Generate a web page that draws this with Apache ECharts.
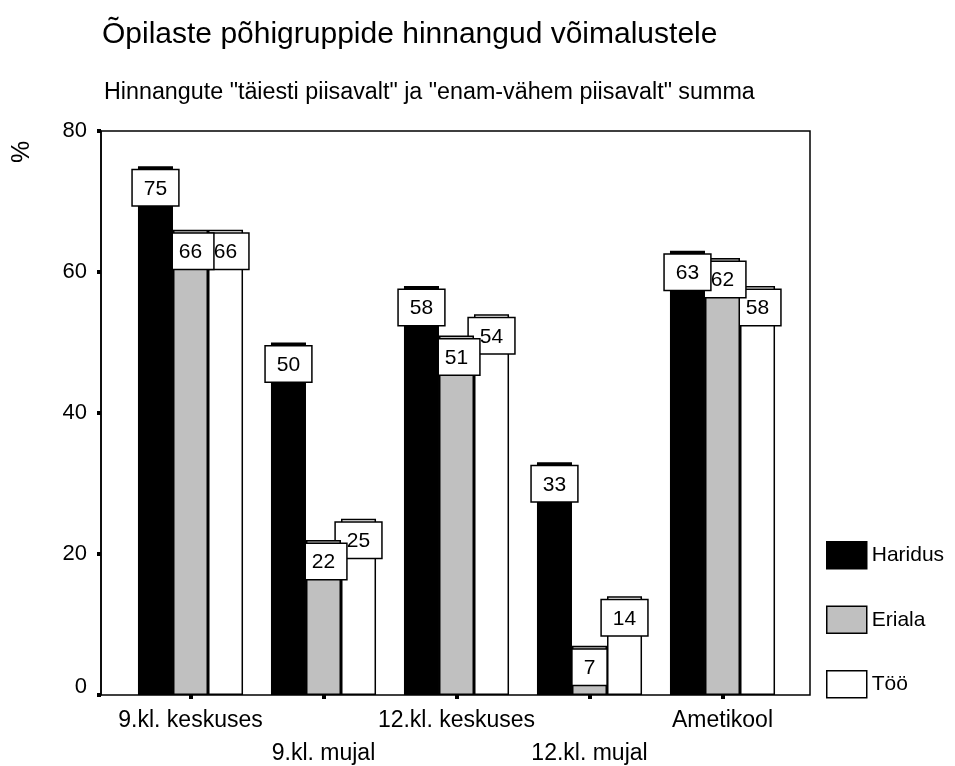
<!DOCTYPE html>
<html>
<head>
<meta charset="utf-8">
<script src="https://cdn.jsdelivr.net/npm/echarts@6/dist/echarts.min.js"></script>
<style>html,body{margin:0;padding:0;background:#fff}#c{width:955px;height:766px}</style>
</head>
<body>
<div id="c"></div>
<script>
const categories = ['9.kl. keskuses', '9.kl. mujal', '12.kl. keskuses', '12.kl. mujal', 'Ametikool'];
const seriesNames = ['Haridus', 'Eriala', 'Töö'];
const haridus = [75, 50, 58, 33, 63];
const eriala = [66, 22, 51, 7, 62];
const too = [66, 25, 54, 14, 58];
const yMin = 0, yMax = 80, yStep = 20;

const FONT = '"Liberation Sans", Arial, sans-serif';
const chart = echarts.init(document.getElementById('c'), null, {renderer: 'canvas'});

const labelStyle = {
  show: true,
  position: 'insideTop',
  distance: 4,
  backgroundColor: '#fff',
  borderColor: '#000',
  borderWidth: 1.5,
  padding: [8, 11, 6, 11],
  fontSize: 21,
  fontFamily: FONT,
  color: '#000'
};

function barSeries(name, data, color, z) {
  return {
    name: name,
    type: 'bar',
    xAxisIndex: 1,
    yAxisIndex: 1,
    data: data,
    z: z,
    barGap: '0%',
    barCategoryGap: '21%',
    itemStyle: {color: color, borderColor: '#000', borderWidth: 1.5},
    label: labelStyle,
    emphasis: {disabled: true}
  };
}

chart.setOption({
  animation: false,
  backgroundColor: '#fff',
  textStyle: {fontFamily: FONT},
  title: [
    {text: 'Õpilaste põhigruppide hinnangud võimalustele', left: 97, top: 15,
     textStyle: {fontSize: 30, fontWeight: 'normal', color: '#000', fontFamily: FONT}},
    {text: 'Hinnangute "täiesti piisavalt" ja "enam-vähem piisavalt" summa', left: 99, top: 76,
     textStyle: {fontSize: 23.3, fontWeight: 'normal', color: '#000', fontFamily: FONT}}
  ],
  graphic: [
    {type: 'text', x: 10, y: 163, rotation: Math.PI / 2,
     style: {text: '%', fontSize: 25, fontFamily: FONT, fill: '#000'}}
  ],
  legend: {
    orient: 'vertical',
    left: 826,
    top: 541,
    padding: 0,
    itemWidth: 40,
    itemHeight: 27,
    itemGap: 36,
    icon: 'rect',
    data: seriesNames,
    itemStyle: {borderColor: '#000', borderWidth: 1.5},
    textStyle: {fontSize: 21, color: '#000', fontFamily: FONT}
  },
  grid: [
    {left: 101, right: 145, top: 131, bottom: 71, outerBoundsMode: 'none', show: true, borderColor: '#000', borderWidth: 1.5, backgroundColor: 'transparent'},
    {left: 124, right: 166, top: 131, bottom: 71, outerBoundsMode: 'none'}
  ],
  xAxis: [
    {gridIndex: 0, type: 'value', show: false, min: 0, max: 1},
    {gridIndex: 1, type: 'category', data: categories,
     axisLine: {show: false},
     axisTick: {show: true, alignWithLabel: true, length: 4, lineStyle: {color: '#000', width: 4}},
     axisLabel: {
       interval: 0, fontSize: 23, color: '#000', fontFamily: FONT, margin: 9, lineHeight: 33,
       formatter: function (v, i) { return i % 2 === 1 ? '\n' + v : v; }
     }}
  ],
  yAxis: [
    {gridIndex: 0, type: 'value', min: yMin, max: yMax, interval: yStep,
     axisLine: {show: true, lineStyle: {color: '#000', width: 1.5}},
     axisTick: {show: true, length: 4, lineStyle: {color: '#000', width: 4}},
     splitLine: {show: false},
     axisLabel: {fontSize: 22, color: '#000', fontFamily: FONT, margin: 14,
       formatter: function (v) { return v === 0 ? '{z|0}' : String(v); },
       rich: {z: {fontSize: 22, fontFamily: FONT, color: '#000', padding: [0, 0, 16, 0]}}}},
    {gridIndex: 1, type: 'value', min: yMin, max: yMax, interval: yStep, show: false, splitLine: {show: false}}
  ],
  series: [
    barSeries(seriesNames[0], haridus, '#000000', 5),
    barSeries(seriesNames[1], eriala, '#c0c0c0', 4),
    barSeries(seriesNames[2], too, '#ffffff', 3)
  ]
});
</script>
</body>
</html>
